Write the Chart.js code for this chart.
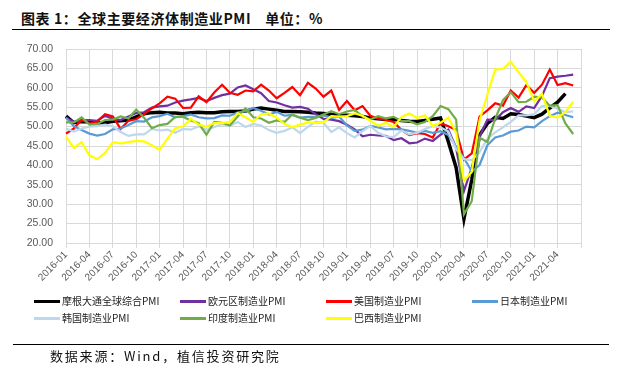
<!DOCTYPE html>
<html>
<head>
<meta charset="utf-8">
<script src="https://cdn.jsdelivr.net/npm/chart.js@4.4.0/dist/chart.umd.min.js"></script>
<style>
  html, body { margin: 0; padding: 0; background: #fff; }
  #wrap { position: relative; width: 621px; height: 367px; overflow: hidden; font-family: "Noto Sans CJK SC", sans-serif; }
  #box { position: absolute; left: 0; top: 0; width: 621px; height: 367px; }
  .title { position: absolute; left: 21px; top: 9px; font-size: 14px; font-weight: bold; letter-spacing: 0.6px; line-height: 18px; color: #111; white-space: pre; }
  .title span { margin-left: 14px; }
  .rule { position: absolute; height: 0; border-top: 1.5px solid #000; }
  .source { position: absolute; left: 50px; top: 347px; font-size: 13px; letter-spacing: 1.8px; line-height: 17px; color: #111; white-space: pre; }
  .leg { position: absolute; font-size: 10px; line-height: 12px; color: #222; letter-spacing: 0; white-space: pre; display: flex; align-items: center; }
  .leg i { display: inline-block; width: 26px; height: 3px; margin-right: 2px; }
</style>
</head>
<body>
<div id="wrap">
  <div class="title">图表 1：全球主要经济体制造业PMI<span>单位：%</span></div>
  <div class="rule" style="left:12px; width:598px; top:29px;"></div>
  <div id="box"><canvas id="pmiChart"></canvas></div>
  <div id="legend"></div>
  <div class="rule" style="left:13px; width:596px; top:344px;"></div>
  <div class="source">数据来源：Wind，植信投资研究院</div>
</div>
<script>
// months 2016-01 .. 2021-07 (last one only closes the axis)
const months = [];
for (let y = 2016; y <= 2021; y++) {
  for (let m = 1; m <= 12; m++) {
    if (y === 2021 && m > 7) break;
    months.push(y + '-' + String(m).padStart(2, '0'));
  }
}

const seriesNames = ['摩根大通全球综合PMI', '欧元区制造业PMI', '美国制造业PMI', '日本制造业PMI',
                     '韩国制造业PMI', '印度制造业PMI', '巴西制造业PMI'];

const jpmGlobal = [
  52.7, 51.0, 51.3, 51.2, 51.0, 51.0, 51.4, 51.5, 51.7, 52.5, 53.3, 53.6,
  53.7, 53.5, 53.5, 53.3, 53.6, 53.7, 53.6, 53.6, 53.8, 53.9, 53.9, 54.0,
  54.5, 54.8, 54.5, 54.2, 53.9, 53.9, 53.8, 53.7, 53.5, 53.4, 53.2, 53.0,
  52.9, 52.8, 52.6, 52.2, 52.0, 51.8, 51.8, 51.6, 51.4, 51.3, 51.6, 51.9,
  52.2, 46.1, 39.4, 26.2, 36.3, 47.8, 50.8, 52.4, 52.1, 53.3, 53.1, 52.7,
  52.3, 53.2, 54.8, 56.3, 58.5, null
];
const euroArea = [
  52.3, 51.2, 51.6, 51.7, 51.5, 52.8, 52.0, 51.7, 52.6, 53.5, 53.7, 54.9,
  55.2, 55.4, 56.2, 56.7, 57.0, 57.4, 56.6, 57.4, 58.1, 58.5, 60.1, 60.6,
  59.6, 58.6, 56.6, 56.2, 55.5, 54.9, 55.1, 54.6, 53.2, 52.0, 51.8, 51.4,
  50.5, 49.3, 47.5, 47.9, 47.7, 47.6, 46.5, 47.0, 45.7, 45.9, 46.9, 46.3,
  47.9, 49.2, 44.5, 33.4, 39.4, 47.4, 51.8, 51.7, 53.7, 54.8, 53.8, 55.2,
  54.8, 57.9, 62.5, 62.9, 63.1, 63.4
];
const usa = [
  48.2, 49.5, 51.8, 50.8, 51.3, 53.2, 52.6, 49.4, 51.5, 51.9, 53.2, 54.7,
  56.0, 57.7, 57.2, 54.8, 54.9, 57.8, 56.3, 58.8, 60.8, 58.7, 58.2, 59.3,
  59.1, 60.8, 59.3, 57.3, 58.7, 60.2, 58.1, 61.3, 59.8, 57.7, 59.3, 54.3,
  56.6, 54.2, 55.3, 52.8, 52.1, 51.7, 51.2, 49.1, 47.8, 48.3, 48.1, 47.2,
  50.9, 50.1, 49.1, 41.5, 43.1, 52.6, 54.2, 56.0, 55.4, 59.3, 57.5, 60.7,
  58.7, 60.8, 64.7, 60.7, 61.2, 60.6
];
const japan = [
  52.3, 50.1, 49.1, 48.2, 47.7, 48.1, 49.3, 49.5, 50.4, 51.4, 51.3, 52.4,
  52.7, 53.3, 52.4, 52.7, 53.1, 52.4, 52.1, 52.2, 52.9, 52.8, 53.6, 54.0,
  54.8, 54.1, 53.1, 53.8, 52.8, 53.0, 52.3, 52.5, 52.5, 52.9, 52.2, 52.6,
  50.3, 48.9, 49.2, 50.2, 49.8, 49.3, 49.4, 49.3, 48.9, 48.4, 48.9, 48.4,
  48.8, 47.8, 44.8, 41.9, 38.4, 40.1, 45.2, 47.2, 47.7, 48.7, 49.0, 50.0,
  49.8, 51.4, 52.7, 53.6, 53.0, 52.4
];
const korea = [
  49.5, 48.7, 49.5, 50.0, 50.1, 50.5, 50.1, 48.6, 47.6, 48.0, 48.0, 49.4,
  49.0, 49.2, 48.4, 49.4, 49.2, 50.1, 49.1, 49.9, 50.6, 50.2, 51.2, 49.9,
  50.7, 50.3, 49.1, 48.4, 48.9, 49.8, 48.3, 49.9, 51.3, 51.0, 48.6, 49.8,
  48.3, 47.2, 48.8, 50.2, 48.4, 47.5, 47.3, 49.0, 48.0, 48.4, 49.4, 50.1,
  49.8, 48.7, 44.2, 41.6, 41.3, 43.4, 46.9, 48.5, 49.8, 51.2, 52.9, 52.9,
  53.2, 55.3, 55.3, 54.6, 53.7, 53.9
];
const india = [
  51.1, 51.1, 52.4, 50.5, 50.7, 51.7, 51.8, 52.6, 52.1, 54.4, 52.3, 49.6,
  50.4, 50.7, 52.5, 52.5, 51.6, 50.9, 47.9, 51.2, 51.0, 50.3, 52.6, 54.7,
  52.4, 52.1, 51.0, 51.6, 51.2, 53.1, 52.3, 51.7, 52.2, 53.1, 54.0, 53.2,
  53.9, 54.3, 52.6, 51.8, 52.7, 52.1, 52.5, 51.4, 51.4, 50.6, 51.2, 52.7,
  55.3, 54.5, 51.8, 27.4, 30.8, 47.2, 46.0, 52.0, 56.8, 58.9, 56.3, 56.4,
  57.7, 57.5, 55.4, 55.5, 50.8, 48.1
];
const brazil = [
  47.4, 44.5, 46.0, 42.6, 41.6, 43.2, 46.0, 45.7, 46.0, 46.3, 46.2, 45.2,
  44.0, 46.9, 49.6, 50.1, 52.0, 50.5, 50.0, 50.9, 50.9, 51.2, 53.5, 52.4,
  51.2, 53.2, 53.4, 52.3, 50.7, 49.8, 50.5, 51.1, 50.9, 51.1, 52.7, 52.6,
  52.7, 53.4, 52.8, 51.5, 50.2, 51.0, 49.9, 52.5, 53.4, 52.2, 52.9, 50.2,
  51.0, 52.3, 48.4, 36.0, 38.3, 51.6, 58.2, 64.7, 64.9, 66.7, 64.0, 61.5,
  56.5, 58.4, 52.8, 52.3, 53.7, 56.4
];

const yTicks = [20, 25, 30, 35, 40, 45, 50, 55, 60, 65, 70];

// styles
const lineColors = ['#000000', '#7030a0', '#ff0000', '#5b9bd5', '#bdd7ee', '#70ad47', '#ffff00'];
const lineWidths = [3.5, 2.2, 2.2, 2.2, 2.2, 2.2, 2.2];
const allSeries = [jpmGlobal, euroArea, usa, japan, korea, india, brazil];

const datasets = allSeries.map((vals, i) => ({
  label: seriesNames[i],
  data: vals,
  borderColor: lineColors[i],
  backgroundColor: lineColors[i],
  borderWidth: lineWidths[i],
  pointRadius: 0,
  tension: 0,
  order: allSeries.length - i
}));

const ctx = document.getElementById('pmiChart').getContext('2d');
new Chart(ctx, {
  type: 'line',
  data: { labels: months, datasets: datasets },
  options: {
    responsive: true,
    maintainAspectRatio: false,
    animation: false,
    layout: { padding: { top: 49, right: 40, left: 0, bottom: 0 } },
    plugins: { legend: { display: false }, tooltip: { enabled: false } },
    scales: {
      x: {
        type: 'category',
        offset: false,
        grid: {
          color: (c) => (c.index % 3 === 0 ? '#d9d9d9' : 'rgba(0,0,0,0)'),
          tickLength: 5,
          lineWidth: 1
        },
        border: { color: '#d9d9d9' },
        ticks: {
          autoSkip: false,
          minRotation: 45,
          maxRotation: 45,
          padding: 1,
          color: '#595959',
          font: { family: 'Liberation Sans', size: 10 },
          callback: function (v, i) { return (i % 3 === 0 && i < months.length - 1) ? months[i] : ''; }
        },
        afterFit: (s) => { s.height = 124; }
      },
      y: {
        min: yTicks[0],
        max: yTicks[yTicks.length - 1],
        afterBuildTicks: (s) => { s.ticks = yTicks.map(v => ({ value: v })); },
        grid: { color: '#d9d9d9', drawTicks: false, lineWidth: 1 },
        border: { color: '#d9d9d9' },
        ticks: {
          padding: 13,
          color: '#595959',
          font: { family: 'Liberation Sans', size: 10.5 },
          callback: (v) => Number(v).toFixed(2)
        },
        afterFit: (s) => { s.width = 66; }
      }
    }
  }
});

// legend in two rows, four columns
const legend = document.getElementById('legend');
seriesNames.forEach((name, i) => {
  const d = document.createElement('div');
  d.className = 'leg';
  d.style.left = (34 + (i % 4) * 146) + 'px';
  d.style.top = (295 + Math.floor(i / 4) * 17) + 'px';
  d.innerHTML = '<i style="background:' + lineColors[i] + '"></i>';
  d.appendChild(document.createTextNode(name));
  legend.appendChild(d);
});
</script>
</body>
</html>
